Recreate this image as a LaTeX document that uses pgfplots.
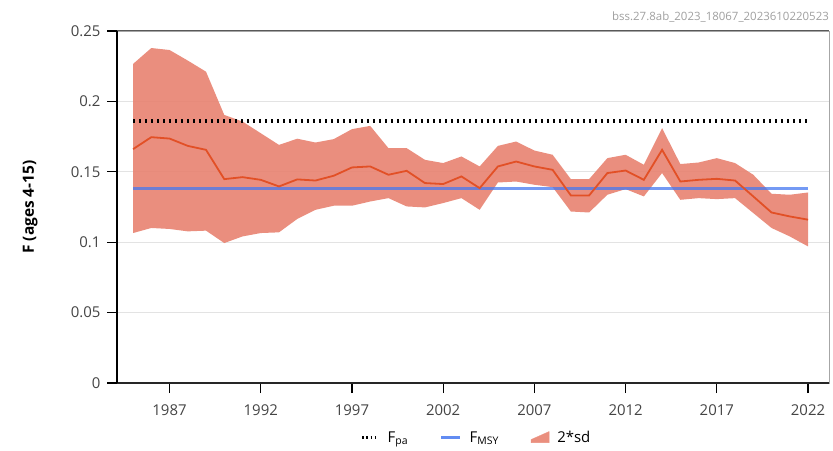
\documentclass[border=0pt]{standalone}
\usepackage{fontspec}
\setmainfont{Open Sans}
\usepackage{pgfplots}
\pgfplotsset{compat=1.18}
\usepackage{pgfplotstable}
\usepgfplotslibrary{fillbetween}

\definecolor{bandc}{RGB}{232,130,112}
\definecolor{linec}{RGB}{226,80,38}
\definecolor{msyc}{RGB}{70,120,240}
\definecolor{tickc}{RGB}{68,68,68}

% F estimate with upper / lower 2*sd bounds
\pgfplotstableread{
year up     lo     mid
1985 0.2266 0.1065 0.1661
1986 0.2379 0.1101 0.1746
1987 0.2365 0.1094 0.1736
1988 0.2290 0.1077 0.1684
1989 0.2211 0.1082 0.1656
1990 0.1904 0.0994 0.1448
1991 0.1857 0.1041 0.1462
1992 0.1774 0.1065 0.1443
1993 0.1691 0.1070 0.1396
1994 0.1735 0.1165 0.1446
1995 0.1708 0.1230 0.1438
1996 0.1732 0.1259 0.1472
1997 0.1803 0.1259 0.1531
1998 0.1826 0.1289 0.1538
1999 0.1668 0.1313 0.1479
2000 0.1668 0.1254 0.1507
2001 0.1585 0.1247 0.1420
2002 0.1562 0.1278 0.1413
2003 0.1609 0.1313 0.1467
2004 0.1538 0.1230 0.1384
2005 0.1684 0.1424 0.1538
2006 0.1715 0.1431 0.1573
2007 0.1651 0.1408 0.1538
2008 0.1621 0.1391 0.1514
2009 0.1448 0.1218 0.1332
2010 0.1448 0.1211 0.1332
2011 0.1597 0.1337 0.1491
2012 0.1621 0.1377 0.1509
2013 0.1550 0.1325 0.1443
2014 0.1810 0.1491 0.1656
2015 0.1555 0.1301 0.1431
2016 0.1566 0.1313 0.1443
2017 0.1597 0.1306 0.1450
2018 0.1562 0.1313 0.1438
2019 0.1479 0.1207 0.1325
2020 0.1344 0.1101 0.1211
2021 0.1337 0.1041 0.1183
2022 0.1353 0.0970 0.1160
}\fdata

\begin{document}
\begin{tikzpicture}
\begin{axis}[
  scale only axis,
  width=712bp, height=352bp,
  xmin=1984.12, xmax=2023.15,
  ymin=0, ymax=0.25,
  xtick={1987,1992,1997,2002,2007,2012,2017,2022},
  ytick={0,0.05,0.1,0.15,0.2,0.25},
  yticklabels={0,0.05,0.1,0.15,0.2,0.25},
  x tick label style={/pgf/number format/1000 sep={}},
  /pgf/number format/assume math mode=true,
  tick label style={font=\fontsize{15}{18}\selectfont, text=tickc},
  yticklabel style={xshift=-3bp},
  xticklabel style={yshift=-8bp},
  xtick pos=left, ytick pos=left,
  tick align=outside,
  major tick length=10bp,
  tick style={black, line width=1.2bp},
  axis line style={gray!70, line width=0.8bp},
  ymajorgrids,
  grid style={gray!22, line width=0.9bp},
  ylabel={\bfseries F (ages 4-15)},
  ylabel style={at={(axis description cs:-0.122,0.5)}, anchor=center,
    font=\fontsize{15.5}{18}\selectfont},
  legend style={at={(axis description cs:0.505,-0.155)}, anchor=center,
    draw=none, fill=none, font=\fontsize{15}{18}\selectfont,
    legend columns=3,
    /tikz/every odd column/.append style={column sep=6bp},
    /tikz/every even column/.append style={column sep=30bp}},
  legend cell align=left,
]
\addlegendimage{legend image code/.code={
  \draw[black, line width=3bp, dash pattern=on 1.6bp off 2.6bp] (0bp,0bp) -- (16bp,0bp);}}
\addlegendentry{F\textsubscript{pa}}
\addlegendimage{legend image code/.code={
  \draw[msyc!85!white, line width=2.5bp] (0bp,0bp) -- (19bp,0bp);}}
\addlegendentry{F\textsubscript{MSY}}
\addlegendimage{legend image code/.code={
  \fill[bandc!90!white] (0bp,-5bp) -- (18bp,-5bp) -- (18bp,6bp) -- (0bp,-2bp) -- cycle;}}
\addlegendentry{2*sd}

\addplot[name path=up, draw=none, forget plot] table[x=year, y=up] {\fdata};
\addplot[name path=lo, draw=none, forget plot] table[x=year, y=lo] {\fdata};
\addplot[fill=bandc, draw=none, fill opacity=0.9, forget plot] fill between[of=up and lo];
\addplot[msyc, line width=3bp, draw opacity=0.75, forget plot] coordinates {(1985,0.138) (2022,0.138)};
\addplot[black, line width=3.5bp, dash pattern=on 2bp off 4bp, forget plot]
  coordinates {(1985,0.186) (2022,0.186)};
\addplot[linec, line width=1.8bp, forget plot] table[x=year, y=mid] {\fdata};

\coordinate (sw) at (rel axis cs:0,0);
\coordinate (se) at (rel axis cs:1,0);
\coordinate (nw) at (rel axis cs:0,1);
\coordinate (ne) at (rel axis cs:1,1);
\end{axis}
\draw[black!65, line width=1bp] (nw) -- (ne);
\draw[black!85, line width=1.3bp] (sw) -- (se);
\draw[black, line width=1.8bp] (sw) -- (nw);
\node[anchor=south east, inner sep=0pt, yshift=9bp, text=gray!75,
  font=\fontsize{11.5}{13}\selectfont] at (ne)
  {bss.27.8ab\_2023\_18067\_2023610220523};
\pgfresetboundingbox
\path ([shift={(-117bp,-68bp)}]sw) rectangle ([shift={(4bp,31bp)}]ne);
\end{tikzpicture}
\end{document}
